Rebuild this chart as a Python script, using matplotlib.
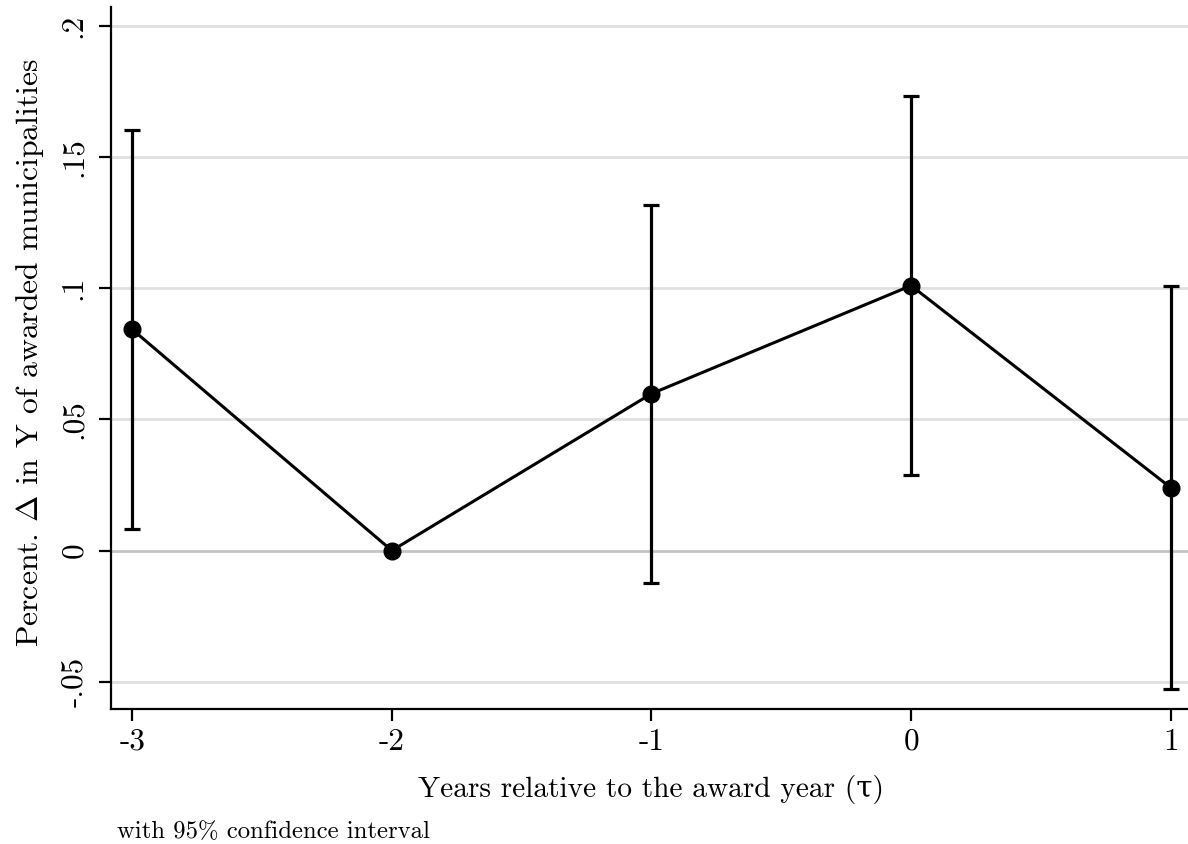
import matplotlib
matplotlib.use("Agg")
import matplotlib.pyplot as plt

# Data
tau = [-3, -2, -1, 0, 1]
coef = [0.0843, 0.0, 0.0598, 0.1010, 0.0240]
ci_low = [0.0083, 0.0, -0.0123, 0.0288, -0.0529]
ci_high = [0.1603, 0.0, 0.1319, 0.1732, 0.1009]
has_ci = [True, False, True, True, True]

xticks = [-3, -2, -1, 0, 1]
xtick_labels = ["-3", "-2", "-1", "0", "1"]
yticks = [-0.05, 0.0, 0.05, 0.10, 0.15, 0.20]
ytick_labels = ["-.05", "0", ".05", ".1", ".15", ".2"]

xlabel = "Years relative to the award year (\u03c4)"
ylabel = "Percent. $\\Delta$ in Y of awarded municipalities"
note = "with 95% confidence interval"

plt.rcParams["mathtext.fontset"] = "cm"
plt.rcParams["font.family"] = ["cmr10", "DejaVu Serif"]
plt.rcParams["axes.unicode_minus"] = False

W, H = 1188, 844
fig = plt.figure(figsize=(W / 100, H / 100), dpi=100)
ax_l, ax_b, ax_t = 110.7, 709.3, 7.0
ax = fig.add_axes([ax_l / W, (H - ax_b) / H, 1 - ax_l / W, (ax_b - ax_t) / H])

# grid lines
for yv in yticks:
    if yv == 0:
        ax.axhline(yv, color="#c4c4c4", lw=2.0, zorder=1)
    else:
        ax.axhline(yv, color="#e0e0e0", lw=2.0, zorder=1)

# error bars
xe = [t for t, h in zip(tau, has_ci) if h]
ye = [c for c, h in zip(coef, has_ci) if h]
lo = [c - l for c, l, h in zip(coef, ci_low, has_ci) if h]
hi = [u - c for c, u, h in zip(coef, ci_high, has_ci) if h]
ax.errorbar(xe, ye, yerr=[lo, hi], fmt="none", ecolor="black",
            elinewidth=2.3, capsize=6, capthick=2.3, zorder=3)

ax.plot(tau, coef, color="black", lw=2.2, marker="o", markersize=12,
        markerfacecolor="black", markeredgecolor="black", zorder=4)

ax.set_xlim(-3.083, 1.0666)
ax.set_ylim(-0.0605, 0.2072)

ax.set_xticks(xticks)
ax.set_xticklabels(xtick_labels)
ax.set_yticks(yticks)
ax.set_yticklabels(ytick_labels, rotation=90, va="center")

ax.tick_params(axis="both", direction="out", length=8.5, width=1.6,
               colors="black", labelsize=22.5)
ax.tick_params(axis="x", pad=5)
ax.tick_params(axis="y", pad=8)

for s in ["top", "right"]:
    ax.spines[s].set_visible(False)
for s in ["left", "bottom"]:
    ax.spines[s].set_linewidth(1.6)
    ax.spines[s].set_color("black")

ax_w = W - ax_l
ax_h = ax_b - ax_t
ax.set_xlabel(xlabel, fontsize=21.2)
ax.xaxis.set_label_coords((650.5 - ax_l) / ax_w, -(775 - ax_b) / ax_h)
ax.set_ylabel(ylabel, fontsize=22.8)
ax.yaxis.set_label_coords((46 - ax_l) / ax_w, (ax_b - 352.5) / ax_h)

fig.text(117 / W, 1 - 838 / H, note, fontsize=17.8, ha="left", va="baseline")

fig.savefig("out.png", dpi=100)
